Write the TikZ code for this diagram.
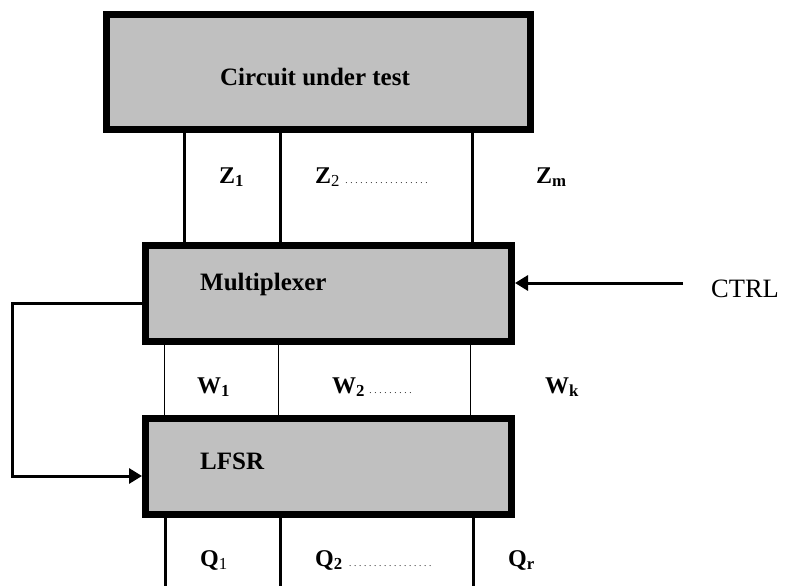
\documentclass[tikz,border=0pt]{standalone}
\usepackage{fontspec}
\setmainfont{Liberation Serif}
\usetikzlibrary{arrows.meta}
\definecolor{boxgray}{HTML}{C0C0C0}
\tikzset{
  blk/.style={draw, fill=boxgray, line width=7pt, outer sep=3.5pt, inner sep=0pt, rectangle},
  bus/.style={line width=3pt},
  thinbus/.style={line width=1pt},
  lbl/.style={font=\fontsize{25}{30}\selectfont\bfseries, inner sep=0pt},
  sig/.style={font=\fontsize{24}{28}\selectfont\bfseries, anchor=base west, inner sep=0pt},
  fb/.style={line width=3pt, -{Triangle[length=13pt,width=15pt]}}
}
\newcommand\dotrun[1]{{\mdseries\hbox to #1{\leaders\hbox to 5pt{\hss\fontsize{9}{9}\selectfont.\hss}\hfill}}}
\begin{document}
\begin{tikzpicture}[x=1pt,y=-1pt]
\useasboundingbox (0,0) rectangle (785,586);
% blocks
\node[blk, minimum width=424pt, minimum height=115pt] (cut) at (318.5,72) {};
\node[blk, minimum width=366pt, minimum height=96pt] (mux) at (328.5,293.5) {};
\node[blk, minimum width=366pt, minimum height=96pt] (lfsr) at (328.5,466.5) {};
% block texts
\node[lbl, anchor=base] (cuttxt) at (315,86) {Circuit under test};
\node[lbl, anchor=base west] (muxtxt) at (200,290) {Multiplexer};
\node[lbl, anchor=base west] (lfsrtxt) at (200,469) {LFSR};
% Z buses
\draw[bus] (cut.south -| 184,0) -- (mux.north -| 184,0);
\draw[bus] (cut.south -| 280,0) -- (mux.north -| 280,0);
\draw[bus] (cut.south -| 472,0) -- (mux.north -| 472,0);
% W buses
\draw[thinbus] (mux.south -| 164,0) -- (lfsr.north -| 164,0);
\draw[thinbus] (mux.south -| 278,0) -- (lfsr.north -| 278,0);
\draw[thinbus] (mux.south -| 470,0) -- (lfsr.north -| 470,0);
% Q buses
\coordinate (q1end) at (165,586);
\coordinate (q2end) at (280,586);
\coordinate (qrend) at (473,586);
\draw[bus] (lfsr.south -| q1end) -- (q1end);
\draw[bus] (lfsr.south -| q2end) -- (q2end);
\draw[bus] (lfsr.south -| qrend) -- (qrend);
% labels
\node[sig] (z1) at (219,183) {Z\textsubscript{1}};
\node[sig] (z2) at (315,183) {Z\textsubscript{\mdseries 2}\hspace{4pt}\dotrun{86pt}};
\node[sig] (zm) at (536,183) {Z\textsubscript{m}};
\node[sig] (w1) at (197,393) {W\textsubscript{1}};
\node[sig] (w2) at (332,393) {W\textsubscript{2}\hspace{3pt}\dotrun{49pt}};
\node[sig] (wk) at (545,393) {W\textsubscript{k}};
\node[sig] (q1) at (200,566) {Q\textsubscript{\mdseries 1}};
\node[sig] (q2) at (315,566) {Q\textsubscript{2}\hspace{5pt}\dotrun{86pt}};
\node[sig] (qr) at (508,566) {Q\textsubscript{r}};
% CTRL
\coordinate (ctrlstart) at (683,283);
\node[font=\fontsize{26.5}{30}\selectfont, anchor=base west, inner sep=0pt] (ctrl) at (711,297) {CTRL};
\draw[fb] (ctrlstart) -- (mux.east |- ctrlstart);
% feedback
\coordinate (fbtop) at (12,303);
\coordinate (fbbot) at (12,476);
\draw[fb] (mux.west |- fbtop) -- (fbtop) -- (fbbot) -- (lfsr.west |- fbbot);
\end{tikzpicture}
\end{document}
